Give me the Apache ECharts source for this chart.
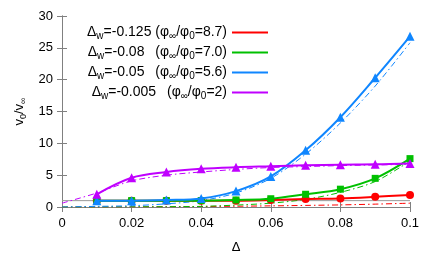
<!DOCTYPE html>
<html><head><meta charset="utf-8">
<script src="https://cdn.jsdelivr.net/npm/echarts@6/dist/echarts.min.js"></script>
<style>html,body{margin:0;padding:0;background:#fff}#c{width:436px;height:262px}</style>
</head><body><div id="c"></div>
<script>
const deltas = [0.01,0.02,0.03,0.04,0.05,0.06,0.07,0.08,0.09,0.1];
const red    = [1.0,1.0,1.0,1.0,1.0,1.1,1.25,1.35,1.6,1.9];
const green  = [1.0,1.0,1.0,1.0,1.1,1.3,2.0,2.8,4.5,7.6];
const blue   = [1.0,1.0,1.1,1.35,2.5,4.8,8.9,14.1,20.3,26.8];
const purple = [2.0,4.6,5.5,6.0,6.25,6.4,6.55,6.65,6.7,6.85];
const modelX = [0,0.01,0.02,0.03,0.04,0.05,0.06,0.07,0.08,0.09,0.1];
const redModel    = [0,0,0.02,0.05,0.08,0.12,0.18,0.25,0.33,0.45,0.6];
const greenModel  = [0,0,0.02,0.05,0.1,0.3,0.6,1.2,2.3,4.0,7.2];
const blueModel   = [0,0.1,0.2,0.5,1.0,2.2,4.5,8.3,13.2,19.0,25.8];
const purpleModel = [0.6,2.2,4.1,5.0,5.5,5.9,6.2,6.35,6.5,6.6,6.7];
const refX = [0,0.1];
const refY = [1,1];
const labels = [
 ['-0.125','','8.7'],
 ['-0.08','\u2002','7.0'],
 ['-0.05','\u2002','5.6'],
 ['-0.005','\u2002','2']
];
const names = ['r','g','b','p'];
const colors = ['#ff0000','#00c000','#0f86ff','#c000ff'];
const symbols = ['circle','rect','triangle','triangle'];
const symSizes = [8,7,9,9];
const solid = [red,green,blue,purple];
const models = [redModel,greenModel,blueModel,purpleModel];
const pair = (xs,ys)=>xs.map((x,i)=>[x,ys[i]]);
const FONT = 'Liberation Sans';
const series = [{
  type:'line', data:pair(refX,refY), symbol:'none', silent:true,
  lineStyle:{color:'#9a9a9a',width:1}, z:1
}];
for (let i=0;i<4;i++){
  series.push({type:'line', data:pair(modelX,models[i]), symbol:'none', smooth:0.3,
    lineStyle:{color:colors[i],width:1,type:[6,3,1.5,3]}, z:2, silent:true});
}
for (let i=0;i<4;i++){
  series.push({name:names[i], type:'line', data:pair(deltas,solid[i]), smooth:0.35,
    symbol:symbols[i], symbolSize:symSizes[i], showAllSymbol:true,
    lineStyle:{color:colors[i],width:2}, itemStyle:{color:colors[i]}, z:3+i});
}
const rich = {
  a:{fontFamily:FONT,fontSize:14,color:'#000',lineHeight:17},
  s:{fontFamily:FONT,fontSize:10,color:'#000',lineHeight:17,verticalAlign:'bottom',padding:[6,0,0,0]}
};
const richY = {
  a:{fontFamily:FONT,fontSize:13,color:'#000',lineHeight:16},
  s:{fontFamily:FONT,fontSize:9,color:'#000',lineHeight:16,verticalAlign:'bottom',padding:[6,0,0,0]}
};
const chart = echarts.init(document.getElementById('c'),null,{renderer:'canvas'});
chart.setOption({
  animation:false,
  grid:{left:62,right:26,top:16,bottom:55},
  legend:{
    data:names, orient:'vertical', align:'right', right:163, top:20,
    itemWidth:36, itemHeight:2, icon:'rect', itemGap:4,
    formatter:(n)=>{const k=names.indexOf(n);const L=labels[k];
      return '{a|\u0394}{s|w}{a|=' + L[0] + ' ' + L[1] + '(\u03c6}{s|\u221e}{a|/\u03c6}{s|0}{a|=' + L[2] + ')}';},
    textStyle:{rich:rich, align:'right', width:160}
  },
  xAxis:[{type:'value',min:0,max:0.1,interval:0.02,position:'bottom',
    name:'\u0394',nameLocation:'middle',nameGap:34,
    nameTextStyle:{fontFamily:FONT,fontSize:13,color:'#000'},
    axisLine:{lineStyle:{color:'#808080'}},
    axisTick:{inside:true,length:5,lineStyle:{color:'#808080'}},
    axisLabel:{fontFamily:FONT,fontSize:13,color:'#000',margin:10},
    splitLine:{show:false}},
   {type:'value',min:0,max:0.1,interval:0.02,position:'top',
    axisLine:{lineStyle:{color:'#808080'}},
    axisTick:{inside:true,length:5,lineStyle:{color:'#808080'}},
    axisLabel:{show:false},splitLine:{show:false}}],
  yAxis:[{type:'value',min:0,max:30,interval:5,position:'left',
    name:'{a|v}{s|0}{a|/v}{s|\u221e}',nameLocation:'middle',nameGap:29,
    nameTextStyle:{rich:richY},
    axisLine:{show:true,lineStyle:{color:'#808080'}},
    axisTick:{show:true,inside:true,length:5,lineStyle:{color:'#808080'}},
    axisLabel:{fontFamily:FONT,fontSize:13,color:'#000',margin:9},
    splitLine:{show:false}},
   {type:'value',min:0,max:30,interval:5,position:'right',
    axisLine:{show:true,lineStyle:{color:'#808080'}},
    axisTick:{show:true,inside:true,length:5,lineStyle:{color:'#808080'}},
    axisLabel:{show:false},splitLine:{show:false}}],
  series:series
});
</script></body></html>
